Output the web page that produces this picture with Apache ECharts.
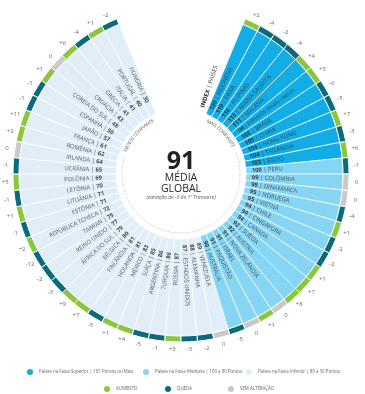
<!DOCTYPE html>
<html><head><meta charset="utf-8">
<script src="https://cdn.jsdelivr.net/npm/echarts@6/dist/echarts.min.js"></script>
<style>html,body{margin:0;padding:0;background:#fff}#c{width:365px;height:394px}</style>
</head><body><div id="c"></div><script>
// ---- data ----
const countries = ['INDONÉSIA','ÍNDIA','FILIPINAS','ARÁBIA SAUDITA','MALÁSIA','EMIRADOS ÁRABES UNIDOS','BRASIL','CHINA','HONG KONG','TAILÂNDIA','EGITO',
 'PERU','COLÔMBIA','DINAMARCA','NORUEGA','VIETNÃ','CHILE','CINGAPURA','CANADÁ','SUÉCIA','ÁUSTRIA','NOVA ZELÂNDIA','ISRAEL','PAQUISTÃO','AUSTRÁLIA',
 'VENEZUELA','ALEMANHA','ESTADOS UNIDOS','RÚSSIA','TURQUIA','ARGENTINA','SUÍÇA','MÉXICO','HOLANDA','FINLÂNDIA','BÉLGICA','ÁFRICA DO SUL','REINO UNIDO',
 'TAIWAN','REPÚBLICA TCHECA','ESTÔNIA','LITUÂNIA','LETÔNIA','POLÔNIA','UCRÂNIA','IRLANDA','ROMÊNIA','FRANÇA','JAPÃO','ESPANHA','COREIA DO SUL',
 'CROÁCIA','GRÉCIA','ITÁLIA','PORTUGAL','HUNGRIA'];
const indexValues = [120,119,116,113,111,108,106,105,104,104,103,
 100,99,98,95,95,94,94,94,92,92,91,91,91,90,
 89,88,87,87,86,86,85,83,81,81,80,79,77,75,72,71,71,70,69,65,64,62,61,57,50,48,43,41,41,40,30];
const changes = [2,-4,-2,-4,4,3,-6,-5,7,-3,6,
 -1,0,0,-4,1,-2,-2,1,7,8,0,1,0,-5,
 0,-2,-5,3,-1,-5,4,1,-5,7,9,-3,-2,-12,2,-1,1,-1,5,-1,0,2,11,-1,-1,1,0,6,-4,1,-2];
const bandNames = ['Países na Faixa Superior | 101 Pontos ou Mais','Países na Faixa Mediana | 100 a 90 Pontos','Países na Faixa Inferior | 89 a 30 Pontos'];
const changeNames = ['AUMENTO','QUEDA','SEM ALTERAÇÃO'];
const globalAverage = 91;
const globalChange = -3;

// ---- layout / style ----
const CX = 181, CY = 174;
const GAP_SLOTS = 8;
const N = countries.length;
const STEP = 360 / (N + GAP_SLOTS);
const START = GAP_SLOTS * STEP / 2; // clockwise from top
const bandColors = ['#12ade6','#86d5f3','#e1eef8'];
const changeColors = ['#8cc63f','#0b6b7d','#c9c9c9'];
const FONT = 'Open Sans';

const cats = countries.concat(Array.from({length: GAP_SLOTS}, (_, i) => 'gap' + i));
function band(v){ return v >= 101 ? 0 : (v >= 90 ? 1 : 2); }
function chg(c){ return c > 0 ? 0 : (c < 0 ? 1 : 2); }

const ctx = document.createElement('canvas').getContext('2d');
function textW(s, size, weight){ ctx.font = (weight||'normal') + ' ' + size + 'px "' + FONT + '"'; return ctx.measureText(s).width; }

const angAxis = k => ({polarIndex:k, type:'category', data:cats, startAngle: 90 - START, clockwise:true, boundaryGap:true,
  axisLine:{show:false}, axisTick:{show:false}, axisLabel:{show:false}, splitLine:{show:false}, splitArea:{show:false}});
const radAxis = (k, max) => ({polarIndex:k, type:'value', min:0, max:max,
  axisLine:{show:false}, axisTick:{show:false}, axisLabel:{show:false}, splitLine:{show:false}});

const series = [];
bandNames.forEach((nm, k) => {
  series.push({name:nm, type:'bar', coordinateSystem:'polar', polarIndex:0, stack:'w', barCategoryGap:'0%',
    data: indexValues.map(v => band(v) === k ? 1 : '-'),
    itemStyle:{color:bandColors[k], borderColor:'#fff', borderWidth:0.7}, silent:true});
});
changeNames.forEach((nm, k) => {
  series.push({name:nm, type:'bar', coordinateSystem:'polar', polarIndex:1, stack:'r', barCategoryGap:'0%',
    data: changes.map(c => chg(c) === k ? 1 : '-'),
    itemStyle:{color:changeColors[k], borderColor:'#fff', borderWidth:1}, silent:true});
});
// change labels
series.push({name:'chg', type:'scatter', coordinateSystem:'polar', polarIndex:2, symbolSize:0, silent:true,
  data: changes.map((c, i) => [176, i]),
  label:{show:true, position:'inside', fontSize:6, color:'#444', fontFamily:FONT,
    formatter: p => { const c = changes[p.dataIndex]; return (c > 0 ? '+' : '') + c; }}});
// country labels
const MAXW = 70;
series.push({name:'cty', type:'scatter', coordinateSystem:'polar', polarIndex:2, symbolSize:0, silent:true,
  data: countries.map((nm, i) => {
    const th = START + (i + 0.5) * STEP;
    const right = th < 180;
    const v = indexValues[i];
    const full = right ? (v + ' | ' + nm) : (nm + ' | ' + v);
    let fs = 5.8;
    const w = textW(full, fs);
    if (w > MAXW) fs = fs * MAXW / w;
    return {value:[right ? 71 : 79, i], label:{
      rotate: right ? 90 - th : 270 - th, align: right ? 'left' : 'right', fontSize: fs,
      rich:{v:{fontWeight:'bold', fontSize:fs, color:'#222', fontFamily:FONT}, n:{fontSize:fs, color:'#333', fontFamily:FONT}}}};
  }),
  label:{show:true, position:'inside', verticalAlign:'middle', color:'#333', fontFamily:FONT,
    formatter: p => { const i = p.dataIndex; const th = START + (i + 0.5) * STEP;
      return th < 180 ? '{v|' + indexValues[i] + '}{n| | ' + countries[i] + '}' : '{n|' + countries[i] + ' | }{v|' + indexValues[i] + '}'; }}});

// curved texts
function arcText(str, r, a0, a1, size){
  const ws = [...str].map(ch => textW(ch, size));
  const tot = ws.reduce((a, b) => a + b, 0);
  let acc = 0; const out = [];
  [...str].forEach((ch, i) => {
    const a = a0 + (a1 - a0) * (acc + ws[i] / 2) / tot; acc += ws[i];
    const rad = a * Math.PI / 180;
    out.push({type:'text', x: CX + r * Math.sin(rad), y: CY - r * Math.cos(rad), rotation: -rad, silent:true,
      style:{text:ch, fontSize:size, fill:'#666', align:'center', verticalAlign:'middle', fontFamily:FONT}});
  });
  return out;
}
const idxAng = 18 * Math.PI / 180;
const graphics = [
  {type:'arc', silent:true, shape:{cx:CX, cy:CY, r:59, startAngle:(68 - 90) * Math.PI / 180, endAngle:(286 - 90) * Math.PI / 180, clockwise:true},
    style:{stroke:'#9a9a9a', fill:null, lineWidth:0.8, lineDash:[0.8, 1.6]}},
  ...arcText('MENOS CONFIANTE', 60, 292, 333, 5),
  ...arcText('MAIS CONFIANTE', 59, 26, 63, 5),
  {type:'text', silent:true, x: CX + 70 * Math.sin(idxAng), y: CY - 70 * Math.cos(idxAng), rotation: Math.PI / 2 - idxAng,
    style:{text:'{b|INDEX} | PAÍSES', rich:{b:{fontWeight:'bold', fontSize:6, fill:'#222', fontFamily:FONT}}, fontSize:6, fill:'#444', fontFamily:FONT, align:'left', verticalAlign:'middle'}},
  {type:'text', silent:true, x: CX, y: 162, style:{text:String(globalAverage), fontSize:25, fontWeight:'bold', fill:'#222', fontFamily:FONT, align:'center', verticalAlign:'middle'}},
  {type:'text', silent:true, x: CX, y: 178, style:{text:'MÉDIA', fontSize:10.5, fill:'#222', fontFamily:FONT, align:'center', verticalAlign:'middle'}},
  {type:'text', silent:true, x: CX, y: 189, style:{text:'GLOBAL', fontSize:10.5, fill:'#222', fontFamily:FONT, align:'center', verticalAlign:'middle'}},
  {type:'text', silent:true, x: CX, y: 198, style:{text:'(variação de ' + globalChange + ' do 1º Trimestre)', fontSize:5, fontStyle:'italic', fill:'#555', fontFamily:FONT, align:'center', verticalAlign:'middle'}}
];

const legendPos = [[25,367],[141,367],[244,367],[102,384],[163,384],[226,384]];
const legends = bandNames.concat(changeNames).map((nm, i) => ({
  data:[nm], left:legendPos[i][0], top:legendPos[i][1], padding:0, icon:'circle', itemWidth:8, itemHeight:8, itemGap:4,
  selectedMode:false, textStyle:{fontSize:4.4, color:'#666', fontFamily:FONT}
}));

const chart = echarts.init(document.getElementById('c'), null, {renderer:'canvas'});
chart.setOption({
  animation:false,
  backgroundColor:'#fff',
  polar:[{center:[CX, CY], radius:[65, 162]}, {center:[CX, CY], radius:[162, 168]}, {center:[CX, CY], radius:[0, 176]}],
  angleAxis:[angAxis(0), angAxis(1), angAxis(2)],
  radiusAxis:[radAxis(0, 1), radAxis(1, 1), radAxis(2, 176)],
  legend: legends,
  series: series,
  graphic: graphics
});
</script></body></html>
